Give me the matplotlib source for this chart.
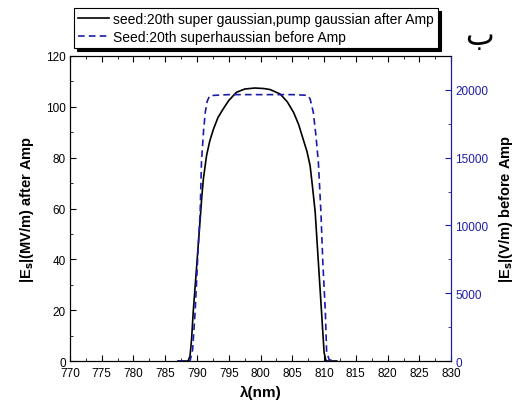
import matplotlib
matplotlib.use('Agg')
import matplotlib.pyplot as plt
from matplotlib.ticker import MultipleLocator

plt.rcParams['font.family'] = ['Liberation Sans', 'DejaVu Sans']

# After amplification (left axis, MV/m)
after_x = [787.0, 788.6, 788.9, 789.15, 789.4, 789.95, 790.5, 790.75, 791.0, 791.5,
           792.0, 792.6, 793.3, 794.1, 795.0, 796.2, 797.5, 799.1, 800.5, 801.5,
           803.1, 804.2, 805.2, 806.0, 806.7, 807.3, 807.8, 808.2, 808.6, 809.1,
           809.6, 810.0, 810.3, 812.0]
after_y = [0, 0, 2.0, 8.7, 19.2, 37.5, 55.9, 64.5, 71.6, 80.8,
           86.5, 91.3, 95.8, 99.1, 102.5, 105.7, 107.0, 107.4, 107.2, 106.8,
           105.0, 102.0, 97.8, 93.0, 87.3, 82.5, 76.8, 68.0, 58.5, 38.8,
           19.2, 3.4, 0, 0]

# Before amplification (right axis, V/m)
before_x = [787.0, 788.9, 789.3, 789.7, 790.2, 790.5, 790.7, 791.0, 791.3, 791.6,
            792.0, 795.0, 800.0, 805.0, 807.4, 807.8, 808.3, 808.7, 809.1, 809.5,
            809.8, 810.2, 810.4, 810.8, 811.5]
before_y = [0, 0, 800, 3594, 8509, 10996, 14664, 16800, 18354, 19150,
            19580, 19650, 19650, 19650, 19600, 19336, 18354, 16700, 14664, 10974,
            7284, 3594, 660, 100, 0]

blue = '#1c1caa'

fig = plt.figure(figsize=(5.18, 4.10), dpi=100)
ax = fig.add_axes([0.135, 0.117, 0.736, 0.744])
ax2 = ax.twinx()

l1, = ax.plot(after_x, after_y, color='black', linewidth=1.2,
              label='seed:20th super gaussian,pump gaussian after Amp')
l2, = ax2.plot(before_x, before_y, color=blue, linewidth=1.2,
               linestyle=(0, (4, 2.5)),
               label='Seed:20th superhaussian before Amp')

ax.set_xlim(770, 830)
ax.set_ylim(0, 120)
ax2.set_ylim(0, 22500)

ax.xaxis.set_major_locator(MultipleLocator(5))
ax.xaxis.set_minor_locator(MultipleLocator(2.5))
ax.yaxis.set_major_locator(MultipleLocator(20))
ax.yaxis.set_minor_locator(MultipleLocator(10))
ax2.yaxis.set_major_locator(MultipleLocator(5000))
ax2.yaxis.set_minor_locator(MultipleLocator(2500))

ax.tick_params(axis='x', which='both', direction='in', top=True, labelsize=8.5, pad=4.5)
ax.tick_params(axis='y', which='both', direction='in', right=False, labelsize=8.5, pad=3)
ax.tick_params(which='major', length=4.5)
ax.tick_params(which='minor', length=2.5)
ax2.tick_params(axis='y', which='both', direction='in', colors=blue, labelsize=8.5, pad=3)
ax2.tick_params(which='major', length=4.5)
ax2.tick_params(which='minor', length=2.5)
ax2.spines['right'].set_color(blue)

ax.set_xlabel('λ(nm)', fontsize=11, fontweight='bold', labelpad=4)
ax.set_ylabel('|E$_\\mathbf{s}$|(MV/m) after Amp', fontsize=10.5, fontweight='bold', labelpad=7)
ax2.set_ylabel('|E$_\\mathbf{s}$|(V/m) before Amp', fontsize=10.5, fontweight='bold', labelpad=6)

leg = fig.legend([l1, l2], [l1.get_label(), l2.get_label()],
                 loc='upper left', bbox_to_anchor=(0.143, 0.978),
                 fontsize=10, frameon=True, fancybox=False,
                 shadow={'color': 'black', 'alpha': 1},
                 handlelength=2.2, handletextpad=0.3, borderpad=0.3,
                 labelspacing=0.25, borderaxespad=0)
leg.get_frame().set_edgecolor('black')
leg.get_frame().set_linewidth(0.8)

fig.text(0.925, 0.91, '\ufe8f', fontsize=22, family=['DejaVu Sans'],
         ha='center', va='center')

fig.savefig('out.png', dpi=100)
